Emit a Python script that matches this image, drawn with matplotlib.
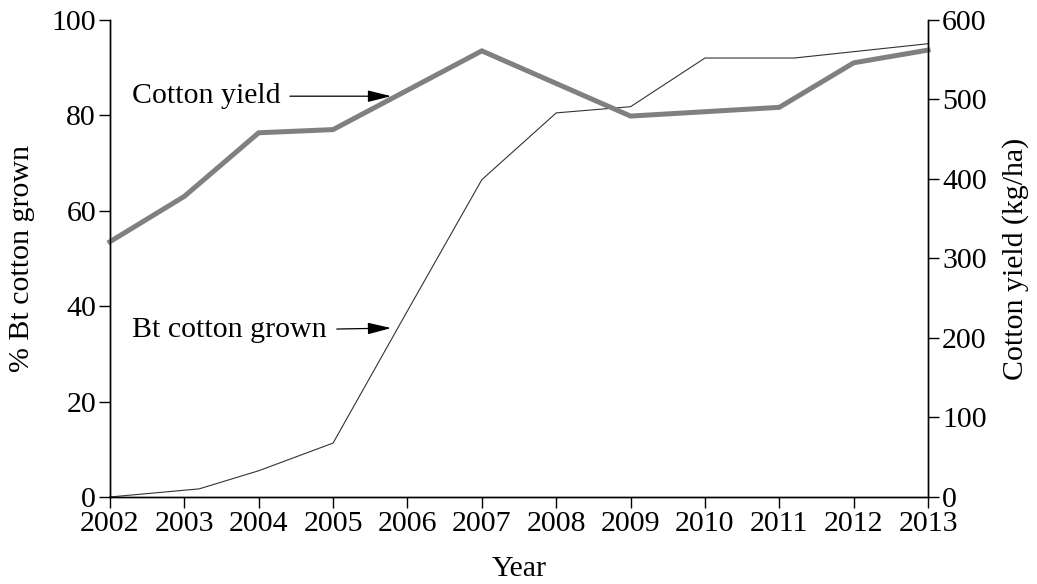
import matplotlib.pyplot as plt

plt.rcParams['font.family'] = ['Liberation Serif', 'DejaVu Serif']

bt_years = [2002, 2003.2, 2004, 2005, 2006, 2007, 2008, 2009, 2010, 2011.2, 2013]
bt_pct = [0, 1.7, 5.5, 11.3, 39, 66.5, 80.5, 81.8, 92, 92, 95]

yield_years = [2002, 2003, 2004, 2005, 2007, 2009, 2011, 2012, 2013]
yield_kg = [321, 378, 458, 462, 561, 479, 490, 546, 562]

year_ticks = list(range(2002, 2014))

fig = plt.figure(figsize=(10.37, 5.84), dpi=100)
ax = fig.add_axes([0.106, 0.149, 0.789, 0.817])
ax2 = ax.twinx()

ax.plot(bt_years, bt_pct, color='#333333', lw=0.8, clip_on=False)
ax2.plot(yield_years, yield_kg, color='#808080', lw=3.6, clip_on=False,
         solid_joinstyle='miter')

ax.set_xlim(2002, 2013)
ax.set_ylim(0, 100)
ax2.set_ylim(0, 600)
ax.set_xticks(year_ticks)
ax.set_yticks([0, 20, 40, 60, 80, 100])
ax2.set_yticks([0, 100, 200, 300, 400, 500, 600])

fs = 21.5
for a in (ax, ax2):
    a.spines['top'].set_visible(False)
    for s in a.spines.values():
        s.set_linewidth(1.0)
    a.tick_params(direction='out', length=8, width=1.0, labelsize=fs, pad=2)

ax.set_xlabel('Year', fontsize=fs, labelpad=14)
ax.set_ylabel('% Bt cotton grown', fontsize=fs, labelpad=12)
ax2.set_ylabel('Cotton yield (kg/ha)', fontsize=fs, labelpad=11)

ax.text(2002.3, 84, 'Cotton yield', fontsize=fs, va='center', ha='left')
ax.annotate('', xy=(2005.78, 84), xytext=(2004.42, 84),
            arrowprops=dict(arrowstyle='-|>,head_length=0.8,head_width=0.2',
                            color='black', lw=0.9,
                            mutation_scale=18, shrinkA=0, shrinkB=0))
ax.text(2002.3, 35, 'Bt cotton grown', fontsize=fs, va='center', ha='left')
ax.annotate('', xy=(2005.78, 35.4), xytext=(2005.05, 35.2),
            arrowprops=dict(arrowstyle='-|>,head_length=0.8,head_width=0.2',
                            color='black', lw=0.9,
                            mutation_scale=18, shrinkA=0, shrinkB=0))

plt.savefig('out.png', dpi=100)
